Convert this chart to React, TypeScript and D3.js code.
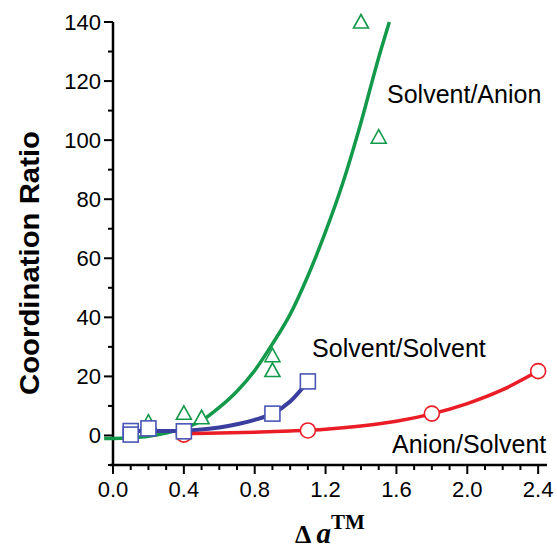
import * as d3 from 'd3';
import { useEffect, useRef } from 'react';

// markers
const solventAnionPts = [
  { x: 0.2, y: 4.5 }, { x: 0.4, y: 7.5 }, { x: 0.5, y: 6 },
  { x: 0.9, y: 27 }, { x: 0.9, y: 22 }, { x: 1.4, y: 140 }, { x: 1.5, y: 101 },
];
const solventSolventPts = [
  { x: 0.1, y: 1.5 }, { x: 0.1, y: 0.3 }, { x: 0.2, y: 2.4 }, { x: 0.4, y: 1.4 },
  { x: 0.9, y: 7.4 }, { x: 1.1, y: 18.3 },
];
const anionSolventPts = [
  { x: 0.4, y: 0.3 }, { x: 1.1, y: 1.7 }, { x: 1.8, y: 7.4 }, { x: 2.4, y: 21.8 },
];

// fitted curves
const solventAnionFit = [
  [-0.05, -1], [0, -1], [0.1, -0.8], [0.2, -0.3], [0.3, 0.8], [0.4, 2.5], [0.5, 5],
  [0.6, 9.5], [0.7, 15], [0.8, 22], [0.9, 31], [1.0, 41], [1.1, 54], [1.2, 69],
  [1.3, 86], [1.4, 106], [1.5, 128], [1.56, 140],
];
const solventSolventFit = [
  [0.1, 1.5], [0.2, 1.5], [0.3, 1.5], [0.4, 1.6], [0.5, 2], [0.6, 2.7], [0.7, 3.8],
  [0.8, 5.3], [0.9, 7.4], [1.0, 11.5], [1.1, 18.3],
];
const anionSolventFit = [
  [0.4, 0.6], [0.6, 0.8], [0.8, 1.1], [1.0, 1.5], [1.2, 2.1], [1.4, 3.2], [1.6, 4.8],
  [1.8, 7.3], [2.0, 10.8], [2.2, 15.5], [2.4, 21.8],
];

const xTicks = [0, 0.4, 0.8, 1.2, 1.6, 2.0, 2.4];
const yTicks = [0, 20, 40, 60, 80, 100, 120, 140];

const labels = [
  { text: 'Solvent/Anion', x: 1.547, y: 112.5 },
  { text: 'Solvent/Solvent', x: 1.124, y: 26.4 },
  { text: 'Anion/Solvent', x: 1.575, y: -6.1 },
];

const GREEN = '#12994a';
const BLUE = '#3a3f9f';
const BLUE_MK = '#4a56b5';
const RED = '#ea1c26';

function App() {
  const svgRef = useRef<SVGSVGElement>(null);

  useEffect(() => {
    const width = 557;
    const height = 548;
    const svg = d3.select(svgRef.current);
    svg.selectAll('*').remove();

    const x = d3.scaleLinear().domain([0, 2.45]).range([113, 547]);
    const y = d3.scaleLinear().domain([-10, 140]).range([465, 22]);
    const font = '"Liberation Sans", Arial, sans-serif';

    const line = d3.line<number[]>()
      .x(d => x(d[0]))
      .y(d => y(d[1]))
      .curve(d3.curveMonotoneX);

    // axes
    const ax = svg.append('g').attr('stroke', '#000');
    ax.append('line').attr('x1', x(0)).attr('x2', x(0)).attr('y1', y(-10) + 1).attr('y2', y(140))
      .attr('stroke-width', 2.5);
    ax.append('line').attr('x1', x(0) - 3).attr('x2', x(2.45)).attr('y1', y(-10)).attr('y2', y(-10))
      .attr('stroke-width', 2.5);

    d3.range(0, 2.45, 0.1).forEach((v, i) => {
      const major = i % 4 === 0;
      ax.append('line').attr('x1', x(v)).attr('x2', x(v))
        .attr('y1', y(-10)).attr('y2', y(-10) + (major ? 9 : 5)).attr('stroke-width', 2);
    });
    d3.range(-10, 141, 10).forEach(v => {
      const major = v % 20 === 0;
      ax.append('line').attr('x1', x(0)).attr('x2', x(0) - (major ? 9 : 5))
        .attr('y1', y(v)).attr('y2', y(v)).attr('stroke-width', 2);
    });

    svg.append('g').selectAll('text').data(xTicks).join('text')
      .attr('x', d => x(d)).attr('y', 497)
      .attr('text-anchor', 'middle').attr('font-family', font).attr('font-size', 22)
      .text(d => d.toFixed(1));
    svg.append('g').selectAll('text').data(yTicks).join('text')
      .attr('x', x(0) - 12).attr('y', d => y(d) + 8)
      .attr('text-anchor', 'end').attr('font-family', font).attr('font-size', 22)
      .text(d => d);

    svg.append('text')
      .attr('transform', `translate(39,${263}) rotate(-90)`)
      .attr('text-anchor', 'middle').attr('font-family', font).attr('font-weight', 'bold')
      .attr('font-size', 27)
      .attr('textLength', 264).attr('lengthAdjust', 'spacingAndGlyphs')
      .text('Coordination Ratio');

    const xt = svg.append('text').attr('x', 295).attr('y', 543)
      .attr('font-family', '"Liberation Serif", "Times New Roman", serif').attr('font-weight', 'bold')
      .attr('font-size', 26);
    xt.append('tspan').text('Δ ');
    xt.append('tspan').attr('font-style', 'italic').attr('font-size', 29).text('a');
    xt.append('tspan').attr('font-size', 21).attr('dy', -14).text('TM');

    // curves
    svg.append('path').datum(solventAnionFit).attr('d', line)
      .attr('fill', 'none').attr('stroke', GREEN).attr('stroke-width', 3.5);
    svg.append('path').datum(solventSolventFit).attr('d', line)
      .attr('fill', 'none').attr('stroke', BLUE).attr('stroke-width', 4);
    svg.append('path').datum(anionSolventFit).attr('d', line)
      .attr('fill', 'none').attr('stroke', RED).attr('stroke-width', 3.5);

    // markers
    svg.append('g').selectAll('path').data(solventAnionPts).join('path')
      .attr('transform', d => `translate(${x(d.x)},${y(d.y)})`)
      .attr('d', 'M0,-7.5L7.5,6L-7.5,6Z')
      .attr('fill', 'white').attr('stroke', GREEN).attr('stroke-width', 1.6);
    svg.append('g').selectAll('circle').data(anionSolventPts).join('circle')
      .attr('cx', d => x(d.x)).attr('cy', d => y(d.y)).attr('r', 7.5)
      .attr('fill', 'white').attr('stroke', RED).attr('stroke-width', 1.6);
    svg.append('g').selectAll('rect').data(solventSolventPts).join('rect')
      .attr('x', d => x(d.x) - 7.5).attr('y', d => y(d.y) - 7.5)
      .attr('width', 15).attr('height', 15)
      .attr('fill', 'white').attr('stroke', BLUE_MK).attr('stroke-width', 1.6);

    svg.append('g').selectAll('text').data(labels).join('text')
      .attr('x', d => x(d.x)).attr('y', d => y(d.y))
      .attr('font-family', font).attr('font-size', 25)
      .text(d => d.text);

    svg.attr('width', width).attr('height', height);
  }, []);

  return <svg ref={svgRef} style={{ position: 'absolute', left: 0, top: 0, background: '#fff' }} />;
}

export default App;
